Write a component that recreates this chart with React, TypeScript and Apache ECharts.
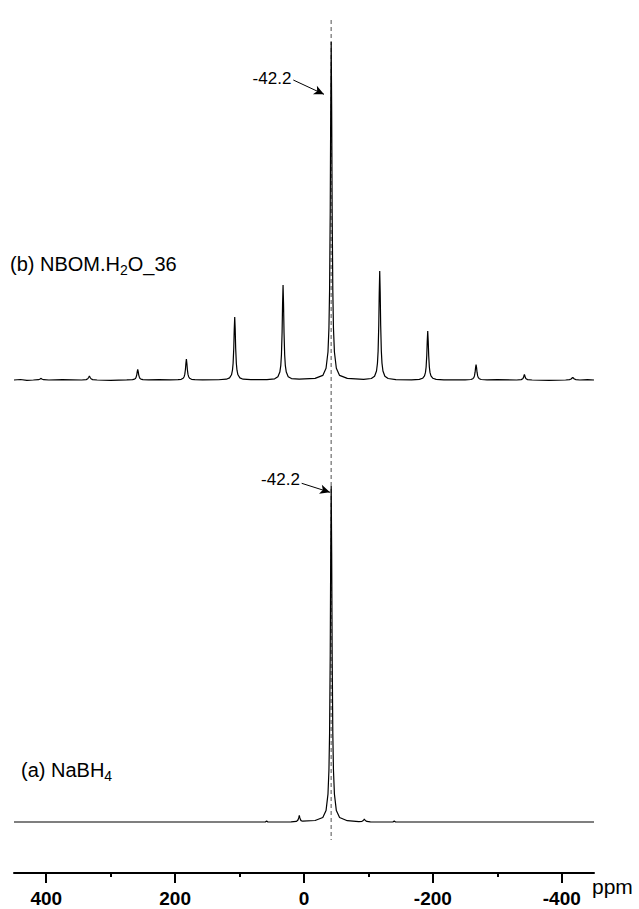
import React, { useEffect, useRef } from "react";
import * as echarts from "echarts";

// ---- data ----
const majorTicks = [400, 200, 0, -200, -400];
const minorTicks = [300, 100, -100, -300];
const peakPpm = -42.2;
const peakLabel = "-42.2";
const labelB = ["(b) NBOM.H", "2", "O_36"];
const labelA = ["(a) NaBH", "4"];

// (b) NBOM.H2O_36 : [ppm, intensity]
const spectrumB: [number, number][] = [
  [450, 0], [440, 0.5], [430, -0.3], [420, 0], [412, 0.3], [410, 0.8], [408.5, 1.6], [408, 2], [407.5, 1.6], [406, 0.8], [404, 0.3], [396, 0], [375, 0.3],
  [345, 0], [338, 0.4], [335.5, 1.2], [334, 2.8], [333, 4], [332, 2.8], [330.5, 1.2], [328, 0.4], [321, 0], [300, -0.3],
  [275, 0.1], [266, 0.4], [263, 0.9], [261.5, 1.6], [260.5, 2.8], [259.5, 5.2], [258.75, 8.4], [258, 10.5], [257.25, 8.4], [256.5, 5.2], [255.5, 2.8], [254.5, 1.6], [253, 0.9], [250, 0.4], [241, 0.1], [225, 0.3],
  [207.5, 0.1], [195.5, 0.3], [190.5, 0.7], [187.5, 1.7], [186, 3.3], [185, 5.6], [184, 10.5], [183.25, 16.8], [182.5, 21], [181.75, 16.8], [181, 10.5], [180, 5.6], [179, 3.3], [177.5, 1.7], [174.5, 0.7], [169.5, 0.3], [157.5, 0.1],
  [132.5, 0.25], [120.5, 0.8], [115.5, 2.1], [112.5, 5.2], [111, 9.8], [110, 16.7], [109, 31.5], [108.25, 50.4], [107.5, 63], [106.75, 50.4], [106, 31.5], [105, 16.7], [104, 9.8], [102.5, 5.2], [99.5, 2.1], [94.5, 0.8], [82.5, 0.3],
  [57.5, 0.4], [45.5, 1.2], [40.5, 3.2], [37.5, 7.9], [36, 14.7], [35, 25.2], [34, 47.5], [33.25, 76], [32.5, 95], [31.75, 76], [31, 47.5], [30, 25.2], [29, 14.7], [27.5, 7.9], [24.5, 3.2], [19.5, 1.4], [7.5, 0.8],
  [-17.2, 1.6], [-29.2, 4.6], [-34.2, 11.7], [-37.2, 28], [-38.7, 52], [-39.7, 90], [-40.7, 169], [-41.45, 270], [-42.2, 338], [-42.95, 270], [-43.7, 169], [-44.7, 90], [-45.7, 52], [-47.2, 28], [-50.2, 11.7], [-55.2, 4.6], [-67.2, 1.6],
  [-92.5, 0.7], [-104.5, 1.5], [-109.5, 3.7], [-112.5, 9], [-114, 16.9], [-115, 28.9], [-116, 54.5], [-116.75, 87], [-117.5, 109], [-118.25, 87], [-119, 54.5], [-120, 28.9], [-121, 16.9], [-122.5, 9], [-125.5, 3.7], [-130.5, 1.5], [-142.5, 0.4],
  [-167, 0.2], [-179, 0.65], [-184, 1.7], [-187, 4.1], [-188.5, 7.6], [-189.5, 13], [-190.5, 24.5], [-191.25, 39], [-192, 49], [-192.75, 39], [-193.5, 24.5], [-194.5, 13], [-195.5, 7.6], [-197, 4.1], [-200, 1.7], [-205, 0.65], [-217, 0.2],
  [-250, 0.1], [-259, 0.5], [-262, 1.3], [-263.5, 2.4], [-264.5, 4.1], [-265.5, 7.8], [-266.25, 12.4], [-267, 15.5], [-267.75, 12.4], [-268.5, 7.8], [-269.5, 4.1], [-270.5, 2.4], [-272, 1.3], [-275, 0.5], [-284, 0.1], [-300, 0.3],
  [-330, 0], [-337, 0.4], [-339.5, 1.2], [-340.5, 2.4], [-341.3, 4.2], [-342, 5.5], [-342.7, 4.2], [-343.5, 2.4], [-344.5, 1.2], [-347, 0.4], [-354, 0], [-380, -0.3],
  [-406, 0], [-412, 0.4], [-414.5, 1], [-416, 2], [-417, 2.5], [-418, 2], [-419.5, 1], [-422, 0.4], [-428, 0], [-440, 0.4], [-450, 0],
];

// (a) NaBH4 : [ppm, intensity]
const spectrumA: [number, number][] = [
  [450, 0], [300, 0], [100, 0], [60, 0], [58, 1], [56, 0],
  [20, 0.2], [12, 0.6], [10, 1.4], [9, 2.6], [8, 4.6], [7.3, 6.5], [6.6, 4.6], [5.6, 2.6], [4.6, 1.4], [2, 0.8],
  [-17.2, 1.5], [-29.2, 4.5], [-34.2, 11.4], [-37.2, 27.9], [-38.7, 52], [-39.7, 89], [-40.7, 168], [-41.45, 269], [-42.2, 336], [-42.95, 269], [-43.7, 168], [-44.7, 89], [-45.7, 52], [-47.2, 27.9], [-50.2, 11.4], [-55.2, 4.5], [-67.2, 1.3],
  [-85, 0.4], [-90, 0.7], [-92, 1.5], [-93, 2.4], [-93.6, 3], [-94.2, 2.4], [-95.2, 1.5], [-97.5, 0.6], [-103, 0.2],
  [-138, 0], [-140, 1], [-142, 0], [-300, 0], [-450, 0],
];

// ---- layout constants ----
const OFFSET_B = 493;
const OFFSET_A = 51;
const FONT = "'Liberation Sans', Arial, sans-serif";
// annotation anchors in data coordinates [ppm, y]
const annotB = { text: [49.66, 794.7], from: [16.6, 793], to: [-31.0, 778.7] };
const annotA = { text: [36.5, 393.5], from: [3.6, 389.7], to: [-40.3, 380.7] };

export default function App() {
  const ref = useRef<HTMLDivElement>(null);

  useEffect(() => {
    if (!ref.current) return;
    const chart = echarts.init(ref.current, null, { renderer: "svg" });

    const dataB = spectrumB.map(([x, y]) => [x, y + OFFSET_B]);
    const dataA = spectrumA.map(([x, y]) => [x, y + OFFSET_A]);

    const arrowStyle = { color: "#000", width: 1, type: "solid" as const };

    const subLabel = (x: number, y: number, parts: string[]) => ({
      type: "text",
      x,
      y,
      silent: true,
      style: {
        text:
          `{m|${parts[0]}}{s|${parts[1]}}` + (parts[2] ? `{m|${parts[2]}}` : ""),
        fill: "#000",
        fontFamily: FONT,
        fontSize: 20,
        verticalAlign: "middle",
        rich: {
          m: { fontSize: 20, lineHeight: 26, fontFamily: FONT, fill: "#000" },
          s: { fontSize: 14, lineHeight: 14, verticalAlign: "bottom", fontFamily: FONT, fill: "#000" },
        },
      },
    });

    chart.setOption({
      animation: false,
      backgroundColor: "#fff",
      grid: { left: 14, right: 45, top: 10, bottom: 36 },
      xAxis: [
        {
          type: "value",
          min: -450,
          max: 450,
          inverse: true,
          position: "bottom",
          axisLine: { show: true, lineStyle: { color: "#000", width: 2 } },
          axisTick: {
            show: true,
            customValues: majorTicks,
            length: 10,
            inside: false,
            lineStyle: { color: "#000", width: 2 },
          },
          axisLabel: {
            show: true,
            customValues: majorTicks,
            margin: 16,
            color: "#000",
            fontSize: 19,
            fontWeight: "bold",
            fontFamily: FONT,
          },
          splitLine: { show: false },
        },
        {
          type: "value",
          min: -450,
          max: 450,
          inverse: true,
          position: "bottom",
          axisLine: { show: false },
          axisTick: {
            show: true,
            customValues: minorTicks,
            length: 4,
            inside: false,
            lineStyle: { color: "#000", width: 2 },
          },
          axisLabel: { show: false },
          splitLine: { show: false },
        },
      ],
      yAxis: {
        type: "value",
        min: 0,
        max: 863,
        show: false,
        splitLine: { show: false },
      },
      series: [
        {
          type: "line",
          name: "ref",
          data: [
            [peakPpm, 853],
            [peakPpm, 33],
          ],
          symbol: "none",
          silent: true,
          z: 1,
          lineStyle: { color: "#8a8a8a", width: 1.5, type: [4, 3] },
        },
        {
          type: "line",
          name: "b",
          data: dataB,
          symbol: "none",
          showSymbol: false,
          silent: true,
          z: 2,
          lineStyle: { color: "#000", width: 1.2 },
          markLine: {
            silent: true,
            symbol: ["none", "arrow"],
            symbolSize: [7, 10],
            label: { show: false },
            lineStyle: arrowStyle,
            data: [[{ coord: annotB.from }, { coord: annotB.to }]],
          },
        },
        {
          type: "line",
          name: "a",
          data: dataA,
          symbol: "none",
          showSymbol: false,
          silent: true,
          z: 2,
          lineStyle: { color: "#000", width: 1.2 },
          markLine: {
            silent: true,
            symbol: ["none", "arrow"],
            symbolSize: [7, 10],
            label: { show: false },
            lineStyle: arrowStyle,
            data: [[{ coord: annotA.from }, { coord: annotA.to }]],
          },
        },
      ],
    });

    const pB = chart.convertToPixel({ gridIndex: 0 }, annotB.text) as number[];
    const pA = chart.convertToPixel({ gridIndex: 0 }, annotA.text) as number[];
    const peakText = (p: number[]) => ({
      type: "text",
      x: p[0],
      y: p[1],
      silent: true,
      style: {
        text: peakLabel,
        fill: "#000",
        fontFamily: FONT,
        fontSize: 17,
        align: "center",
        verticalAlign: "middle",
      },
    });

    chart.setOption({
      graphic: [
        subLabel(10, 264, labelB),
        subLabel(21, 770, labelA),
        peakText(pB),
        peakText(pA),
        {
          type: "text",
          x: 592,
          y: 886,
          silent: true,
          style: {
            text: "ppm",
            fill: "#000",
            fontFamily: FONT,
            fontSize: 21,
            verticalAlign: "middle",
          },
        },
      ],
    });

    return () => {
      chart.dispose();
    };
  }, []);

  return (
    <div
      ref={ref}
      style={{ position: "fixed", left: 0, top: 0, width: 639, height: 909, background: "#fff" }}
    />
  );
}
